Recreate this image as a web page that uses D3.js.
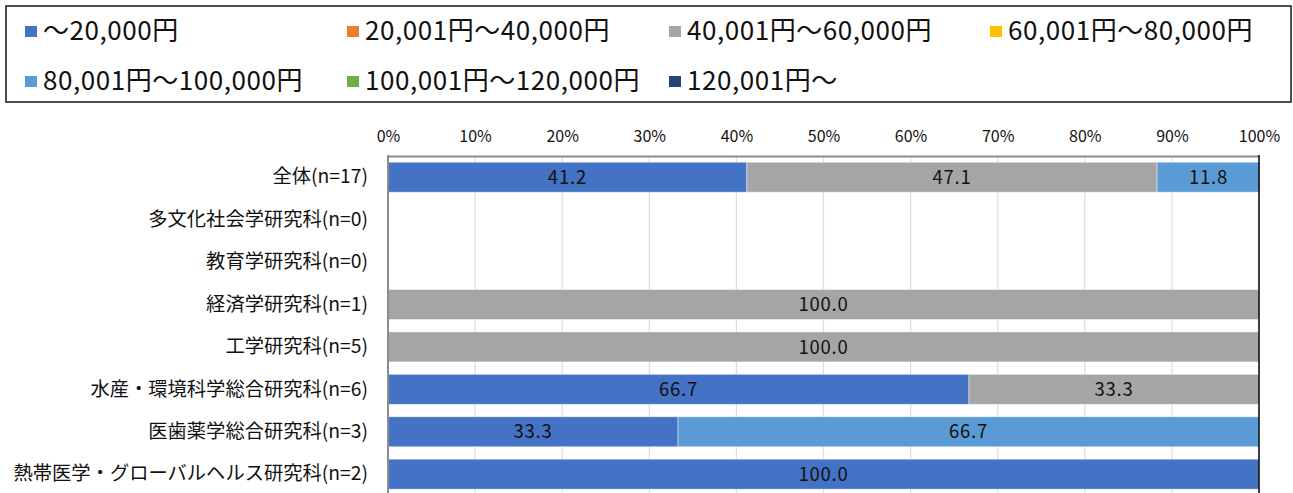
<!DOCTYPE html>
<html><head><meta charset="utf-8">
<script src="https://cdn.jsdelivr.net/npm/d3@7"></script>
<style>
html,body{margin:0;padding:0;background:#fff;}
svg{display:block;font-family:"Noto Sans CJK JP","Noto Sans",sans-serif;}
</style></head>
<body>
<svg id="chart" width="1293" height="493"></svg>
<script>
const categories = ["全体(n=17)","多文化社会学研究科(n=0)","教育学研究科(n=0)","経済学研究科(n=1)","工学研究科(n=5)","水産・環境科学総合研究科(n=6)","医歯薬学総合研究科(n=3)","熱帯医学・グローバルヘルス研究科(n=2)"];
const seriesNames = ["～20,000円","20,001円～40,000円","40,001円～60,000円","60,001円～80,000円","80,001円～100,000円","100,001円～120,000円","120,001円～"];
const seriesColors = ["#4472C4","#ED7D31","#A5A5A5","#FFC000","#5B9BD5","#70AD47","#264478"];
const s1 = [41.2, 0, 0, 0, 0, 66.7, 33.3, 100.0];
const s2 = [0, 0, 0, 0, 0, 0, 0, 0];
const s3 = [47.1, 0, 0, 100.0, 100.0, 33.3, 0, 0];
const s4 = [0, 0, 0, 0, 0, 0, 0, 0];
const s5 = [11.8, 0, 0, 0, 0, 0, 66.7, 0];
const s6 = [0, 0, 0, 0, 0, 0, 0, 0];
const s7 = [0, 0, 0, 0, 0, 0, 0, 0];
const tickValues = [0,10,20,30,40,50,60,70,80,90,100];

const seriesValues = [s1,s2,s3,s4,s5,s6,s7];
const rows = categories.map((c,i)=>{
  const o = {cat:c};
  seriesNames.forEach((n,j)=>{ o[n]=seriesValues[j][i]; });
  return o;
});
const stack = d3.stack().keys(seriesNames)(rows);

const svg = d3.select("#chart");
const x = d3.scaleLinear().domain([0,100]).range([388,1259]);
const y = d3.scaleBand().domain(categories).range([156,495.4]).paddingInner(0.293).paddingOuter(0.1465);

// legend box
svg.append("rect").attr("x",6).attr("y",6).attr("width",1285).attr("height",96)
  .attr("fill","#fff").attr("stroke","#222").attr("stroke-width",1.6);
const legX = [25,347,669,990];
const legY = [31,81];
seriesNames.forEach((n,i)=>{
  const gx = legX[i%4], gy = legY[Math.floor(i/4)];
  svg.append("rect").attr("x",gx).attr("y",gy-5).attr("width",12).attr("height",11).attr("fill",seriesColors[i]);
  svg.append("text").attr("x",gx+18).attr("y",gy).attr("dy","0.36em")
    .attr("font-size",26).attr("letter-spacing",0.55).attr("fill","#111").text(n);
});

// gridlines
svg.append("g").selectAll("line").data(tickValues.slice(1,-1)).join("line")
  .attr("x1",d=>x(d)).attr("x2",d=>x(d)).attr("y1",156).attr("y2",495)
  .attr("stroke","#DDDDDD").attr("stroke-width",1.2);

// top axis
const ax = svg.append("g").attr("transform","translate(0,156)")
  .call(d3.axisTop(x).tickValues(tickValues).tickFormat(d=>d+"%").tickSize(0).tickPadding(14));
ax.select(".domain").attr("stroke","#8C8C8C").attr("stroke-width",2);
ax.selectAll("text").attr("font-size",16).attr("fill","#111").attr("font-family","\"Noto Sans CJK JP\",sans-serif");

// bars
const layers = svg.append("g").selectAll("g").data(stack).join("g")
  .attr("fill",(d,i)=>seriesColors[i]);
layers.selectAll("rect").data(d=>d.filter(p=>p[1]-p[0]>0)).join("rect")
  .attr("x",d=>x(d[0])).attr("width",d=>x(d[1])-x(d[0]))
  .attr("y",d=>y(d.data.cat)).attr("height",y.bandwidth())
  .attr("stroke","rgba(255,255,255,0.45)").attr("stroke-width",1);

// labels
layers.selectAll("text").data(d=>d.filter(p=>p[1]-p[0]>0)).join("text")
  .attr("x",d=>(x(d[0])+x(d[1]))/2).attr("y",d=>y(d.data.cat)+y.bandwidth()/2)
  .attr("dy","0.36em").attr("text-anchor","middle").attr("font-size",18.5).attr("letter-spacing",0.8).attr("fill","#111")
  .text(d=>(d[1]-d[0]).toFixed(1));

// left axis
const ay = svg.append("g").attr("transform","translate(388,0)")
  .call(d3.axisLeft(y).tickSize(0).tickPadding(20));
ay.select(".domain").remove();
ay.selectAll("text").attr("font-size",19.3).attr("fill","#111").attr("font-family","\"Noto Sans CJK JP\",sans-serif");
svg.append("line").attr("x1",388).attr("x2",388).attr("y1",155).attr("y2",495)
  .attr("stroke","#8C8C8C").attr("stroke-width",2);
// right edge
svg.append("line").attr("x1",1259).attr("x2",1259).attr("y1",155).attr("y2",495)
  .attr("stroke","#111").attr("stroke-width",1.6);
</script>
</body></html>
